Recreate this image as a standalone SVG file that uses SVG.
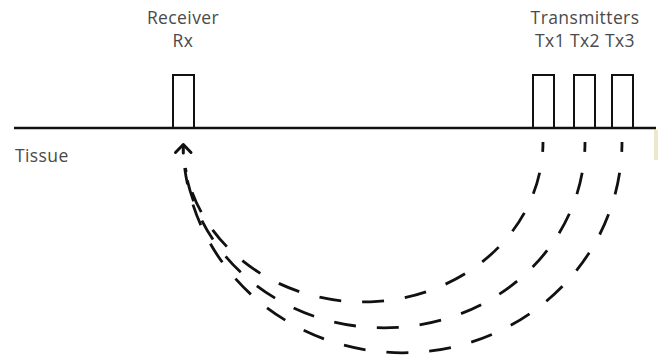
<svg xmlns="http://www.w3.org/2000/svg" width="658" height="359" viewBox="0 0 658 359">
  <style>
    .lbl { font-family: "Open Sans", "Liberation Sans", sans-serif; font-size: 17.5px; letter-spacing: 0.4px; fill: #4a4a4a; text-anchor: middle; }
    .box { fill: none; stroke: #111; stroke-width: 2; }
    .arc { fill: none; stroke: #111; stroke-width: 2.8; stroke-dasharray: 22 21; stroke-dashoffset: 12; }
  </style>
  <rect width="658" height="359" fill="#fff"/>
  <rect x="654" y="130" width="4" height="30" fill="#efe6cc"/>
  <g id="surface">
    <line x1="14" y1="128" x2="656" y2="128" stroke="#111" stroke-width="2.5"/>
  </g>
  <g id="tissue-label">
    <text class="lbl" x="15" y="162" style="text-anchor:start">Tissue</text>
  </g>
  <g id="receiver">
    <text class="lbl" x="183" y="24">Receiver</text>
    <text class="lbl" x="183" y="47">Rx</text>
    <rect class="box" x="173" y="75" width="21" height="53"/>
  </g>
  <g id="transmitters">
    <text class="lbl" x="585" y="24">Transmitters</text>
    <text class="lbl" x="585" y="47">Tx1 Tx2 Tx3</text>
    <rect id="tx1" class="box" x="533" y="75" width="21" height="53"/>
    <rect id="tx2" class="box" x="574" y="75" width="21" height="53"/>
    <rect id="tx3" class="box" x="612" y="75" width="21" height="53"/>
  </g>
  <g id="connectors">
    <path class="arc" d="M 543 142 A 180 160 0 0 1 185.4 168"/>
    <path class="arc" d="M 585 142 A 201 186 0 0 1 185.0 168"/>
    <path class="arc" d="M 622 142 A 219.5 211 0 0 1 184.7 168"/>
    <g fill="none" stroke="#111" stroke-width="3" stroke-linecap="round" stroke-linejoin="round">
      <polyline points="175.5,152.5 183.3,144.5 191,152.5"/>
      <line x1="183.3" y1="145" x2="183.3" y2="153"/>
    </g>
  </g>
</svg>
